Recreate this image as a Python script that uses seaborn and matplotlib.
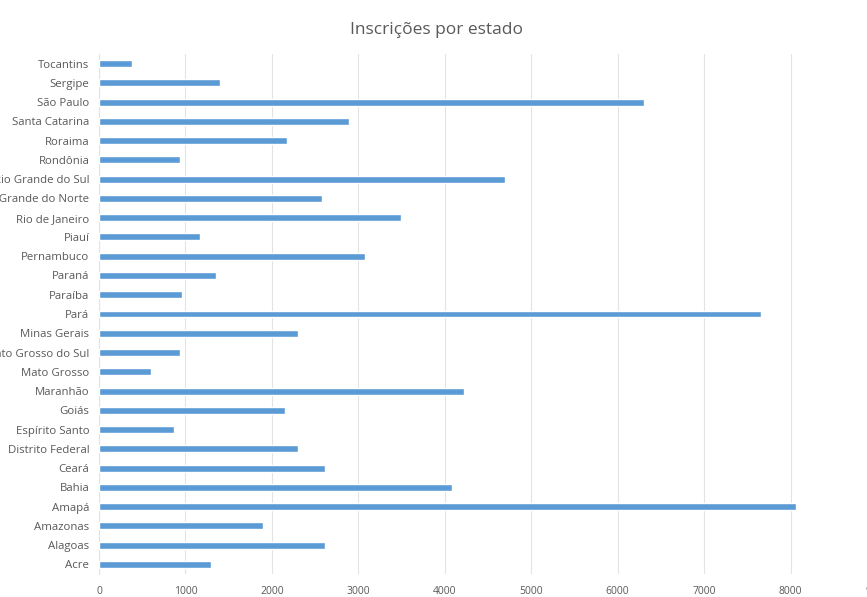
import pandas as pd
import matplotlib.pyplot as plt
import seaborn as sns
import numpy as np

estados = ["Acre", "Alagoas", "Amazonas", "Amapá", "Bahia", "Ceará", "Distrito Federal",
           "Espírito Santo", "Goiás", "Maranhão", "Mato Grosso", "Mato Grosso do Sul",
           "Minas Gerais", "Pará", "Paraíba", "Paraná", "Pernambuco", "Piauí",
           "Rio de Janeiro", "Rio Grande do Norte", "Rio Grande do Sul", "Rondônia",
           "Roraima", "Santa Catarina", "São Paulo", "Sergipe", "Tocantins"]
inscricoes = [1290, 2610, 1900, 8060, 4080, 2610, 2300,
              870, 2150, 4220, 600, 940,
              2300, 7660, 955, 1350, 3075, 1170,
              3490, 2575, 4695, 935,
              2180, 2890, 6310, 1400, 385]
ticks_x = np.arange(0, 9001, 1000)

df = pd.DataFrame({"estado": estados, "inscricoes": inscricoes})

sns.set_style("white")
plt.rcParams["font.family"] = ["Open Sans", "DejaVu Sans"]

fig = plt.figure(figsize=(8.67, 5.97), dpi=100)
ax = fig.add_axes([99 / 867, 1 - 574 / 597, 778 / 867, 520 / 597])

sns.barplot(data=df, x="inscricoes", y="estado", order=estados[::-1],
            color="#5B9BD5", saturation=1, width=0.36, ax=ax, zorder=3)

ax.set_xlim(0, 9000)
ax.set_xticks(ticks_x)
ax.set_xticklabels([str(t) for t in ticks_x], fontsize=7.5, color="#595959")
ax.tick_params(axis="y", labelsize=8.2, labelcolor="#595959", length=0, pad=7)
ax.tick_params(axis="x", length=0, pad=9)
ax.grid(True, axis="x", color="#e3e3e3", linewidth=0.8, zorder=0)
ax.set_axisbelow(True)
ax.set_xlabel("")
ax.set_ylabel("")
for s in ["top", "right", "bottom"]:
    ax.spines[s].set_visible(False)
ax.spines["left"].set_color("#e3e3e3")

fig.text(437 / 867, 1 - 30 / 597, "Inscrições por estado", ha="center", va="center",
         fontsize=12.5, color="#595959")

plt.savefig("out.png", dpi=100)
